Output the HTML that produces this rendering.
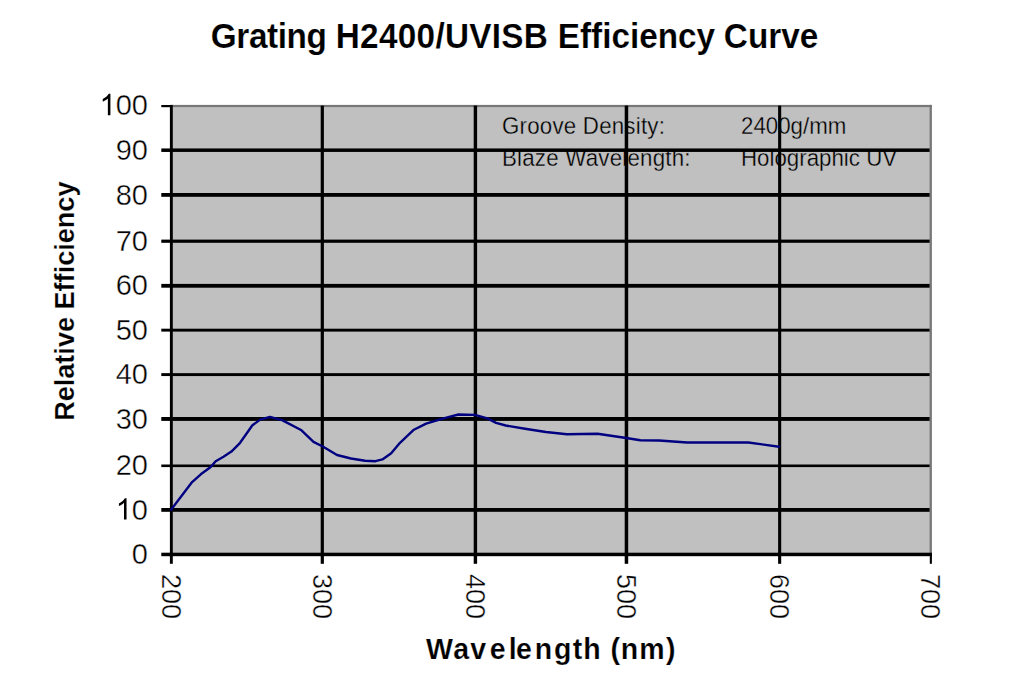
<!DOCTYPE html>
<html><head><meta charset="utf-8"><style>
html,body{margin:0;padding:0;background:#fff;width:1030px;height:687px;overflow:hidden}
svg{display:block}
</style></head><body>
<svg width="1030" height="687" viewBox="0 0 1030 687">
<rect x="171.2" y="105.6" width="759.40" height="448.90" fill="#c0c0c0"/>
<g font-family='"Liberation Sans", sans-serif' font-size="22.3" fill="#000" stroke="#c0c0c0" stroke-width="0.3"><g transform="matrix(1 0 0 1.075 0 -10.087)"><text x="502" y="134.5" letter-spacing="0.22">Groove Density:</text><text x="741" y="134.5" letter-spacing="0">2400g/mm</text></g><g transform="matrix(1 0 0 1.075 0 -12.450)"><text x="502" y="166.0" letter-spacing="0.22">Blaze Wavelength:</text><text x="741" y="166.0" letter-spacing="0">Holographic UV</text></g></g>
<rect x="171.2" y="104.9" width="760.70" height="2.2" fill="#777"/>
<rect x="929.6" y="104.9" width="2.3" height="449.60" fill="#777"/>
<rect x="171.2" y="508.00" width="758.40" height="3.80" fill="#000"/>
<rect x="171.2" y="464.50" width="758.40" height="2.60" fill="#000"/>
<rect x="171.2" y="417.00" width="758.40" height="3.90" fill="#000"/>
<rect x="171.2" y="373.15" width="758.40" height="2.91" fill="#000"/>
<rect x="171.2" y="328.70" width="758.40" height="2.90" fill="#000"/>
<rect x="171.2" y="283.90" width="758.40" height="3.80" fill="#000"/>
<rect x="171.2" y="239.60" width="758.40" height="3.20" fill="#000"/>
<rect x="171.2" y="193.00" width="758.40" height="3.80" fill="#000"/>
<rect x="171.2" y="148.44" width="758.40" height="3.50" fill="#000"/>
<rect x="320.70" y="105.6" width="3.20" height="448.90" fill="#000"/>
<rect x="473.70" y="105.6" width="3.40" height="448.90" fill="#000"/>
<rect x="624.70" y="105.6" width="3.50" height="448.90" fill="#000"/>
<rect x="778.10" y="105.6" width="3.10" height="448.90" fill="#000"/>
<rect x="169.90" y="104.90" width="2.90" height="451.30" fill="#000"/>
<rect x="169.90" y="552.70" width="762.00" height="3.50" fill="#000"/>
<rect x="161.3" y="105.00" width="9.10" height="2.20" fill="#000"/>
<rect x="161.3" y="148.44" width="9.10" height="3.50" fill="#000"/>
<rect x="161.3" y="193.00" width="9.10" height="3.80" fill="#000"/>
<rect x="161.3" y="239.60" width="9.10" height="3.20" fill="#000"/>
<rect x="161.3" y="283.90" width="9.10" height="3.80" fill="#000"/>
<rect x="161.3" y="328.70" width="9.10" height="2.90" fill="#000"/>
<rect x="161.3" y="373.15" width="9.10" height="2.91" fill="#000"/>
<rect x="161.3" y="417.00" width="9.10" height="3.90" fill="#000"/>
<rect x="161.3" y="464.50" width="9.10" height="2.60" fill="#000"/>
<rect x="161.3" y="508.00" width="9.10" height="3.80" fill="#000"/>
<rect x="161.3" y="552.70" width="9.10" height="3.50" fill="#000"/>
<rect x="169.90" y="553.70" width="2.90" height="10.10" fill="#000"/>
<rect x="320.70" y="553.70" width="3.20" height="10.10" fill="#000"/>
<rect x="473.70" y="553.70" width="3.40" height="10.10" fill="#000"/>
<rect x="624.70" y="553.70" width="3.50" height="10.10" fill="#000"/>
<rect x="778.10" y="553.70" width="3.10" height="10.10" fill="#000"/>
<rect x="929.80" y="553.70" width="2.10" height="10.10" fill="#000"/>
<path d="M171.1 509.7 L192.1 482.1 L200.8 474.3 L210.4 467.3 L215.7 461.2 L223.5 456.8 L231.4 451.6 L240.1 442.8 L252.4 425.3 L260.2 419.6 L269.9 417.0 L282.1 420.1 L301.5 430.3 L313.5 441.9 L323.2 446.8 L337.0 455.0 L351.0 458.5 L365.0 460.8 L375.4 461.2 L382.4 459.4 L391.2 453.3 L400.0 442.8 L413.9 429.7 L426.1 423.6 L443.6 418.4 L458.5 414.5 L475.0 414.9 L487.3 418.4 L496.1 422.9 L505.7 425.5 L525.0 428.8 L545.9 432.0 L566.9 434.2 L597.5 433.7 L626.3 438.0 L640.3 440.3 L659.2 440.5 L687.2 442.5 L748.4 442.5 L779.0 446.7" fill="none" stroke="#000080" stroke-width="2.4" stroke-linejoin="round" stroke-linecap="round"/>
<g font-family='"Liberation Sans", sans-serif' font-size="29" text-anchor="end" fill="#000" stroke="#fff" stroke-width="0.4">
<g transform="matrix(1 0 0 1.03 0 -3.456)">
<text x="148" y="115.2">00</text>
<path transform="translate(99.61 115.20) scale(0.01416 -0.01416)" d="M763 0H583V1147Q518 1085 412.5 1023Q307 961 223 930V1104Q374 1175 487 1276Q600 1377 647 1466H763Z"/>
</g>
<g transform="matrix(1 0 0 1.03 0 -4.794)">
<text x="148" y="159.8">90</text>
</g>
<g transform="matrix(1 0 0 1.03 0 -6.138)">
<text x="148" y="204.6">80</text>
</g>
<g transform="matrix(1 0 0 1.03 0 -7.518)">
<text x="148" y="250.6">70</text>
</g>
<g transform="matrix(1 0 0 1.03 0 -8.862)">
<text x="148" y="295.4">60</text>
</g>
<g transform="matrix(1 0 0 1.03 0 -10.194)">
<text x="148" y="339.8">50</text>
</g>
<g transform="matrix(1 0 0 1.03 0 -11.526)">
<text x="148" y="384.2">40</text>
</g>
<g transform="matrix(1 0 0 1.03 0 -12.864)">
<text x="148" y="428.8">30</text>
</g>
<g transform="matrix(1 0 0 1.03 0 -14.256)">
<text x="148" y="475.2">20</text>
</g>
<g transform="matrix(1 0 0 1.03 0 -15.588)">
<text x="148" y="519.6">0</text>
<path transform="translate(115.74 519.60) scale(0.01416 -0.01416)" d="M763 0H583V1147Q518 1085 412.5 1023Q307 961 223 930V1104Q374 1175 487 1276Q600 1377 647 1466H763Z"/>
</g>
<g transform="matrix(1 0 0 1.03 0 -16.923)">
<text x="148" y="564.1">0</text>
</g>
</g>
<g font-family='"Liberation Sans", sans-serif' font-size="27" text-anchor="middle" fill="#000" stroke="#fff" stroke-width="0.4">
<text transform="translate(162.0 596.5) rotate(90)">200</text>
<text transform="translate(313.2 596.5) rotate(90)">300</text>
<text transform="translate(466.1 596.5) rotate(90)">400</text>
<text transform="translate(617.4 596.5) rotate(90)">500</text>
<text transform="translate(770.4 596.5) rotate(90)">600</text>
<text transform="translate(921.4 596.5) rotate(90)">700</text>
</g>
<text transform="matrix(1 0 0 1.04 0 -1.940)" y="48.5" font-family='"Liberation Sans", sans-serif' font-weight="bold" font-size="33.3" stroke="#fff" stroke-width="0.15"><tspan x="210.83" letter-spacing="-0.4">Grating</tspan><tspan x="335.77" letter-spacing="0.3">H2400/UVISB</tspan><tspan x="557.77">Efficiency</tspan><tspan x="723.88">Curve</tspan></text>
<text transform="translate(74.0 301.2) rotate(-90) scale(1 1.04)" text-anchor="middle" font-family='"Liberation Sans", sans-serif' font-weight="bold" font-size="27.1" stroke="#fff" stroke-width="0.2" letter-spacing="0">Relative Efficiency</text>
<text transform="matrix(1 0 0 1.06 0 -39.558)" x="426.07 453.27 470.29 489.69 508.81 516.09 534.72 554.13 572.75 583.31 600.72 610.38 620.82 639.32 665.97" y="659.3" font-family='"Liberation Sans", sans-serif' font-weight="bold" font-size="28.5" stroke="#fff" stroke-width="0.2">Wavelength (nm)</text>
</svg>
</body></html>
